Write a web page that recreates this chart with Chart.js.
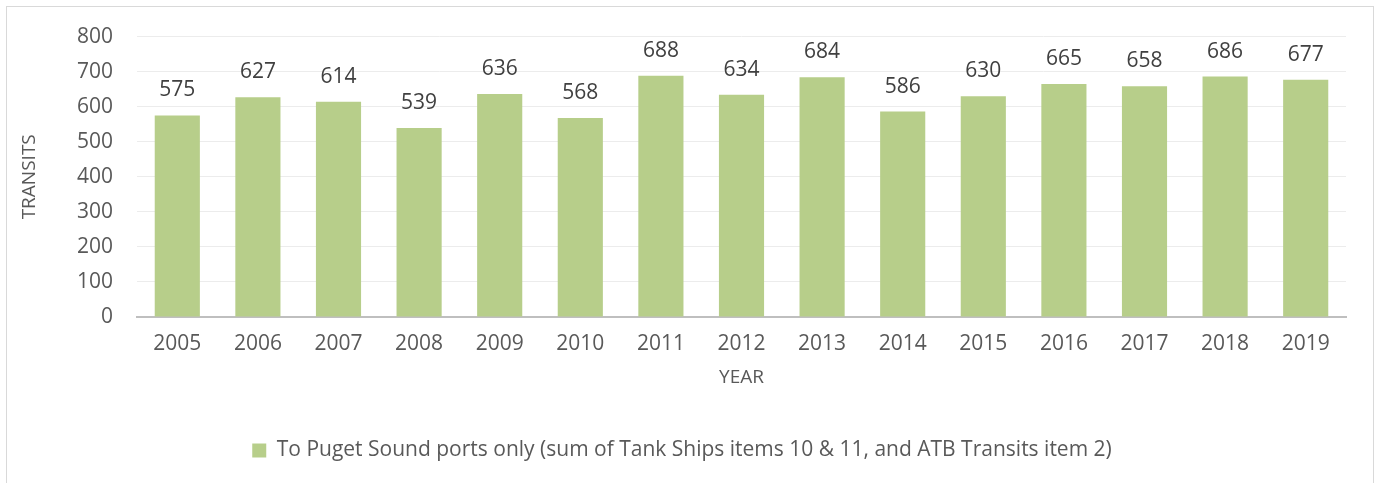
<!DOCTYPE html>
<html>
<head>
<meta charset="utf-8">
<script src="https://cdn.jsdelivr.net/npm/chart.js@4.4.1/dist/chart.umd.min.js"></script>
<style>
    html, body { margin: 0; padding: 0; background: #fff; }
    #wrap { position: relative; width: 1382px; height: 483px; }
    #frame { position: absolute; left: 6px; top: 6px; width: 1368px; height: 490px; border: 1px solid #d9d9d9; box-sizing: border-box; }
    canvas { position: absolute; left: 0; top: 0; }
</style>
</head>
<body>
<div id="wrap">
    <div id="frame"></div>
    <canvas id="transitChart" width="1382" height="483"></canvas>
</div>
<script>
const years = ['2005', '2006', '2007', '2008', '2009', '2010', '2011', '2012', '2013', '2014', '2015', '2016', '2017', '2018', '2019'];
const transits = [575, 627, 614, 539, 636, 568, 688, 634, 684, 586, 630, 665, 658, 686, 677];
const yTicks = [0, 100, 200, 300, 400, 500, 600, 700, 800];
const seriesName = 'To Puget Sound ports only (sum of Tank Ships items 10 & 11, and ATB Transits item 2)';

const FONT = 'Open Sans';
const TEXT = '#595959';
const GREEN = '#b7ce8a';

// value labels above each bar
const barLabels = {
    id: 'barLabels',
    afterDatasetsDraw(chart) {
        const ctx = chart.ctx;
        const meta = chart.getDatasetMeta(0);
        ctx.save();
        ctx.font = '21px "' + FONT + '"';
        ctx.fillStyle = '#404040';
        ctx.textAlign = 'center';
        ctx.textBaseline = 'alphabetic';
        meta.data.forEach((bar, i) => {
            ctx.fillText(transits[i], bar.x, bar.y - 19);
        });
        ctx.restore();
    }
};

new Chart(document.getElementById('transitChart'), {
    type: 'bar',
    data: {
        labels: years,
        datasets: [{
            label: seriesName,
            data: transits,
            backgroundColor: GREEN,
            borderWidth: 0,
            categoryPercentage: 1,
            barPercentage: 0.56
        }]
    },
    options: {
        responsive: false,
        animation: false,
        layout: { padding: { left: 18, right: 36, top: 35, bottom: 12 } },
        plugins: {
            tooltip: { enabled: false },
            legend: {
                position: 'bottom',
                labels: {
                    color: TEXT,
                    font: { family: FONT, size: 21 },
                    boxWidth: 14,
                    boxHeight: 14,
                    padding: 18
                }
            }
        },
        scales: {
            x: {
                grid: { display: false },
                border: { display: true, color: '#bfbfbf', width: 2 },
                ticks: { color: TEXT, font: { family: FONT, size: 21 }, padding: 6 },
                title: { display: true, text: 'YEAR', color: TEXT, font: { family: FONT, size: 19 }, padding: { top: 4, bottom: 33 } },
                afterFit(scale) { scale.height = 105; }
            },
            y: {
                min: 0,
                max: 800,
                afterBuildTicks(scale) { scale.ticks = yTicks.map(v => ({ value: v })); },
                grid: { color: '#ececec', lineWidth: 1, drawTicks: false },
                border: { display: false },
                ticks: { color: TEXT, font: { family: FONT, size: 21 }, padding: 24 },
                title: { display: true, text: 'TRANSITS', color: TEXT, font: { family: FONT, size: 19 }, padding: { top: 0, bottom: 2 } },
                afterFit(scale) { scale.width = 119; }
            }
        }
    },
    plugins: [barLabels]
});
</script>
</body>
</html>
